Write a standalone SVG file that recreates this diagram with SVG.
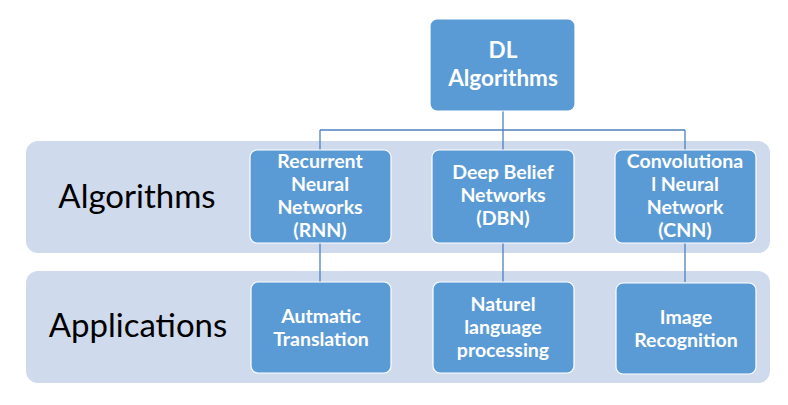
<svg xmlns="http://www.w3.org/2000/svg" width="788" height="405" viewBox="0 0 788 405">
<style>
.band{fill:#CFDAED;}
.box{fill:#5B9BD5;stroke:#FFFFFF;stroke-width:1.2;}
.t{font-family:Lato,"Open Sans","Liberation Sans",sans-serif;font-weight:bold;fill:#FFFFFF;text-anchor:middle;font-size:19.5px;}
.big{font-size:22.5px;}
.lab{font-family:Lato,"Open Sans","Liberation Sans",sans-serif;fill:#000000;font-size:33px;text-anchor:middle;}
.c{stroke:#4F81BD;stroke-width:1.3;fill:none;}
</style>
<rect x="0" y="0" width="788" height="405" fill="#FFFFFF"/>
<g id="band-algorithms"><rect class="band" x="26" y="141" width="744" height="112" rx="12"/><text class="lab" x="137" y="208">Algorithms</text></g>
<g id="band-applications"><rect class="band" x="26" y="271" width="744" height="112" rx="12"/><text class="lab" x="138" y="337">Applications</text></g>
<g id="connectors">
<path class="c" d="M503 111 V130 M320 130 H685 M320 130 V150 M503 130 V150 M685 130 V150"/>
<path class="c" d="M320 243 V282 M503 243 V282 M685 243 V282"/>
</g>
<g id="dl"><rect class="box" x="430" y="19" width="145" height="92" rx="7"/><text class="t big" x="503" y="58">DL</text><text class="t big" x="503" y="86">Algorithms</text></g>
<g id="rnn"><rect class="box" x="250" y="150" width="141" height="93" rx="7"/><text class="t" x="320" y="168">Recurrent</text><text class="t" x="320" y="191">Neural</text><text class="t" x="320" y="214">Networks</text><text class="t" x="320" y="237">(RNN)</text></g>
<g id="dbn"><rect class="box" x="432" y="150" width="142" height="93" rx="7"/><text class="t" x="503" y="179">Deep Belief</text><text class="t" x="503" y="202">Networks</text><text class="t" x="503" y="225">(DBN)</text></g>
<g id="cnn"><rect class="box" x="615" y="150" width="141" height="93" rx="7"/><text class="t" x="685" y="168">Convolutiona</text><text class="t" x="685" y="191">l Neural</text><text class="t" x="685" y="214">Network</text><text class="t" x="685" y="237">(CNN)</text></g>
<g id="translation"><rect class="box" x="251" y="282" width="140" height="91" rx="7"/><text class="t" x="321" y="323">Autmatic</text><text class="t" x="321" y="346">Translation</text></g>
<g id="nlp"><rect class="box" x="433" y="282" width="141" height="91" rx="7"/><text class="t" x="503" y="311">Naturel</text><text class="t" x="503" y="334">language</text><text class="t" x="503" y="357">processing</text></g>
<g id="image"><rect class="box" x="616" y="283" width="140" height="91" rx="7"/><text class="t" x="686" y="324">Image</text><text class="t" x="686" y="347">Recognition</text></g>
</svg>
